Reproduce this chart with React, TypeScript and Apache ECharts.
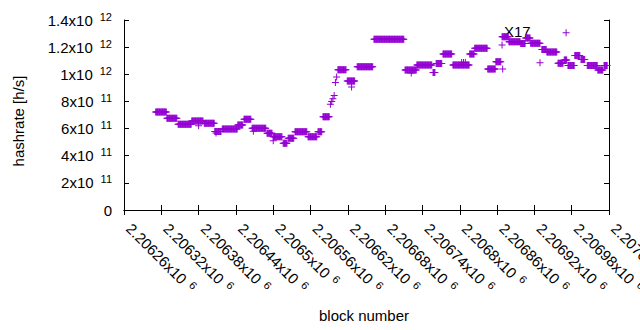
import React, { useEffect, useRef } from "react";
import * as echarts from "echarts";

// x axis (block number) ticks
const xMin = 2206260;
const xMax = 2207040;
const xStep = 60;
// y axis (hashrate) ticks
const yMin = 0;
const yMax = 1.4e12;
const yStep = 2e11;

// Runs of consecutive blocks sharing the same estimated hashrate
const runStart = [
  2206311, 2206329, 2206347, 2206369, 2206389, 2206406, 2206418, 2206443, 2206453, 2206466,
  2206490, 2206500, 2206516, 2206524, 2206535, 2206556, 2206572, 2206580, 2206604, 2206619,
  2206635, 2206662, 2206712, 2206731, 2206757, 2206762, 2206773, 2206789, 2206816, 2206824,
  2206845, 2206858, 2206868, 2206879, 2206898, 2206906, 2206914, 2206932, 2206940, 2206958,
  2206968, 2206974, 2206985, 2206995, 2207005, 2207022, 2207032,
];
const runEnd = [
  2206328, 2206345, 2206368, 2206387, 2206405, 2206416, 2206442, 2206451, 2206464, 2206488,
  2206498, 2206514, 2206522, 2206533, 2206554, 2206570, 2206578, 2206590, 2206617, 2206631,
  2206660, 2206710, 2206730, 2206755, 2206760, 2206771, 2206787, 2206815, 2206823, 2206844,
  2206857, 2206866, 2206878, 2206897, 2206905, 2206913, 2206929, 2206939, 2206956, 2206966,
  2206972, 2206984, 2206993, 2207001, 2207021, 2207030, 2207037,
];
const runValue = [
  7.22e11, 6.76e11, 6.32e11, 6.56e11, 6.39e11, 5.78e11, 5.97e11, 6.26e11, 6.68e11, 6.02e11,
  5.65e11, 5.4e11, 4.91e11, 5.28e11, 5.77e11, 5.4e11, 5.77e11, 6.87e11, 1.034e12, 9.51e11,
  1.056e12, 1.258e12, 1.032e12, 1.068e12, 1.013e12, 1.079e12, 1.149e12, 1.068e12, 1.149e12, 1.191e12,
  1.039e12, 1.093e12, 1.277e12, 1.24e12, 1.227e12, 1.267e12, 1.228e12, 1.183e12, 1.164e12, 1.081e12,
  1.105e12, 1.065e12, 1.138e12, 1.109e12, 1.065e12, 1.032e12, 1.065e12,
];

// Individual blocks off the runs
const extraBlock = [
  2206592, 2206594, 2206596, 2206598, 2206600, 2206602, 2206626, 2206722, 2206803, 2206806,
  2206809, 2206868, 2206869, 2206929, 2206971, 2206408, 2206380, 2206468, 2206500,
];
const extraValue = [
  7.8e11, 8.0e11, 8.2e11, 8.44e11, 9.4e11, 9.8e11, 9.06e11, 1.01e12, 1.087e12, 1.087e12,
  1.087e12, 1.216e12, 1.039e12, 1.085e12, 1.306e12, 5.67e11, 6.2e11, 5.8e11, 5.1e11,
];

const PURPLE = "#9400D3";
const FONT = "Liberation Sans, Arial, sans-serif";

function sci(v: number) {
  if (v === 0) return "{a|0}";
  const exp = Math.floor(Math.log10(Math.abs(v)) + 1e-9);
  const mant = Number((v / Math.pow(10, exp)).toFixed(5));
  return `{a|${mant}x10}{s|${exp}}`;
}

const richY = {
  a: { fontSize: 15, fontFamily: FONT, color: "#000", lineHeight: 18 },
  s: { fontSize: 11, fontFamily: FONT, color: "#000", verticalAlign: "top", lineHeight: 11, padding: [0, 0, 0, 7] },
};
const richX = {
  a: { fontSize: 15, fontFamily: FONT, color: "#000", lineHeight: 18 },
  s: { fontSize: 11, fontFamily: FONT, color: "#000", verticalAlign: "top", lineHeight: 13, padding: [0, 0, 0, 6] },
};

export default function App() {
  const ref = useRef<HTMLDivElement>(null);
  useEffect(() => {
    if (!ref.current) return;
    const chart = echarts.init(ref.current, undefined, { renderer: "svg" });
    const pts: number[][] = [];
    for (let i = 0; i < runStart.length; i++) {
      for (let b = runStart[i]; b <= runEnd[i]; b++) pts.push([b, runValue[i]]);
    }
    for (let i = 0; i < extraBlock.length; i++) pts.push([extraBlock[i], extraValue[i]]);

    const axisLine = { show: true, lineStyle: { color: "#000", width: 1 } };
    const tick = { show: true, inside: true, length: 5, lineStyle: { color: "#000", width: 1 } };

    chart.setOption({
      animation: false,
      grid: { left: 124, right: 31, top: 20, bottom: 120, containLabel: false, outerBoundsMode: "none" },
      xAxis: [
        {
          type: "value",
          min: xMin,
          max: xMax,
          interval: xStep,
          position: "bottom",
          axisLine,
          axisTick: tick,
          splitLine: { show: false },
          axisLabel: {
            rotate: -45,
            margin: 11,
            padding: [0, 0, 0, 7],
            formatter: (v: number) => sci(v),
            rich: richX,
            hideOverlap: false,
            showMinLabel: true,
            showMaxLabel: true,
          },
        },
        {
          type: "value",
          min: xMin,
          max: xMax,
          interval: xStep,
          position: "top",
          axisLine,
          axisTick: tick,
          splitLine: { show: false },
          axisLabel: { show: false },
        },
      ],
      yAxis: [
        {
          type: "value",
          min: yMin,
          max: yMax,
          interval: yStep,
          position: "left",
          axisLine,
          axisTick: tick,
          splitLine: { show: false },
          axisLabel: { margin: 12, formatter: (v: number) => sci(v), rich: richY },
        },
        {
          type: "value",
          min: yMin,
          max: yMax,
          interval: yStep,
          position: "right",
          axisLine,
          axisTick: tick,
          splitLine: { show: false },
          axisLabel: { show: false },
        },
      ],
      series: [
        {
          type: "scatter",
          data: pts,
          symbol: "path://M3,0h1v3h3v1h-3v3h-1v-3h-3v-1h3z",
          symbolSize: 7,
          itemStyle: { color: PURPLE, opacity: 1 },
          emphasis: { disabled: true },
        },
      ],
      graphic: [
        {
          type: "text",
          x: 18,
          y: 121,
          rotation: Math.PI / 2,
          style: { text: "hashrate [h/s]", font: `15px ${FONT}`, fill: "#000", align: "center", verticalAlign: "middle" },
        },
        {
          type: "text",
          x: 364,
          y: 315,
          style: { text: "block number", font: `15px ${FONT}`, fill: "#000", align: "center", verticalAlign: "middle" },
        },
        {
          type: "text",
          x: 504,
          y: 31.5,
          style: { text: "X17", font: `15px ${FONT}`, fill: "#000", align: "left", verticalAlign: "middle" },
        },
      ],
    });
    return () => chart.dispose();
  }, []);
  return <div ref={ref} style={{ width: 640, height: 330, position: "absolute", left: 0, top: 0 }} />;
}
